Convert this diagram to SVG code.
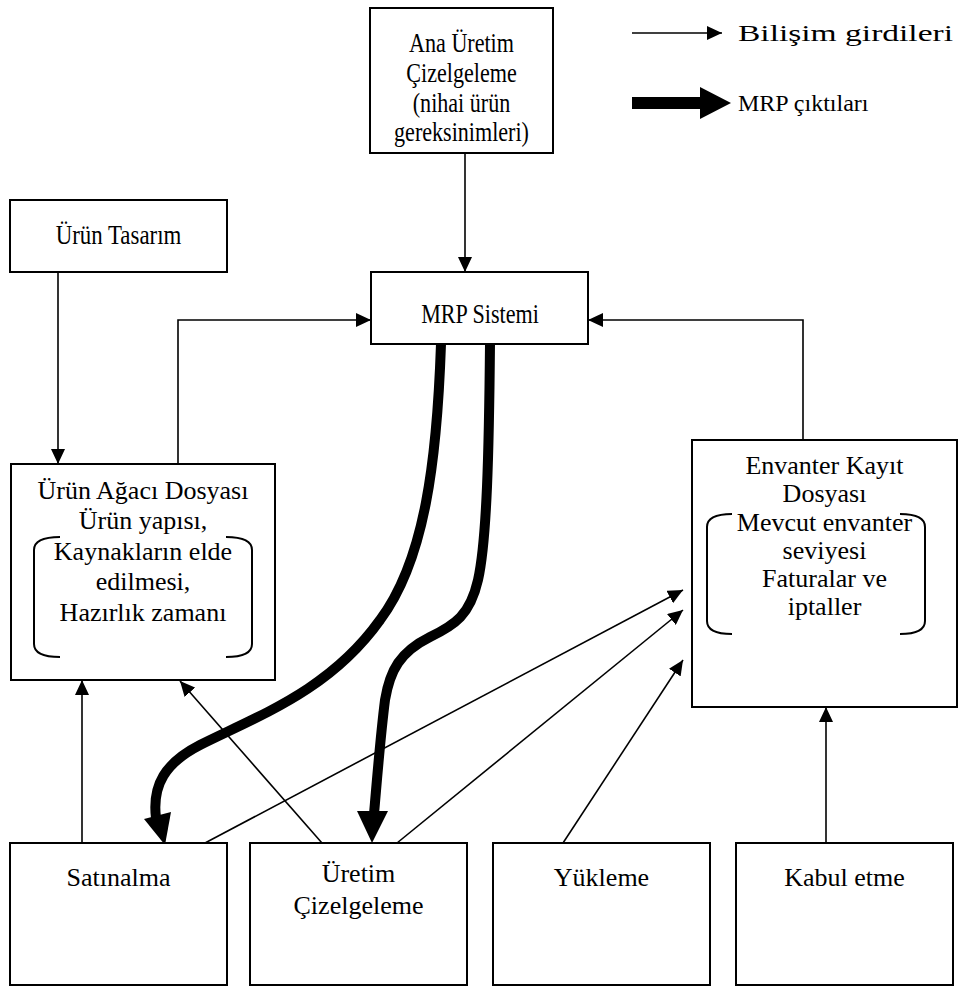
<svg xmlns="http://www.w3.org/2000/svg" width="980" height="994" viewBox="0 0 980 994">
  <style>
    .box { fill: #fff; stroke: #000; stroke-width: 2; }
    .t { font-family: "Liberation Serif", "Times New Roman", serif; font-size: 26px; text-anchor: middle; fill: #000; }
    .lg { font-family: "Liberation Serif", "Times New Roman", serif; font-size: 24px; fill: #000; }
    .thin { fill: none; stroke: #000; stroke-width: 1.6; marker-end: url(#ah); }
    .thick { fill: none; stroke: #000; stroke-width: 10; }
    .brk { fill: none; stroke: #000; stroke-width: 2; }
  </style>
  <defs>
    <marker id="ah" markerUnits="userSpaceOnUse" markerWidth="16" markerHeight="14" refX="15" refY="7" orient="auto">
      <path d="M0,0 L15,7 L0,14 z" fill="#000"/>
    </marker>
  </defs>
  <rect width="980" height="994" fill="#fff"/>

  <!-- legend -->
  <g id="legend">
    <line x1="632" y1="33" x2="722" y2="33" class="thin"/>
    <text class="lg" x="738" y="41" textLength="215" lengthAdjust="spacingAndGlyphs">Bilişim girdileri</text>
    <line x1="632" y1="103" x2="702" y2="103" stroke="#000" stroke-width="12"/>
    <polygon points="700,87 731,103 700,119" fill="#000"/>
    <text class="lg" x="738" y="111">MRP çıktıları</text>
  </g>

  <!-- connectors -->
  <g id="connectors">
    <path class="thin" d="M465,153 V272"/>
    <path class="thin" d="M58,272 V464"/>
    <path class="thin" d="M178,464 V320 H371"/>
    <path class="thin" d="M803,440 V320 H588"/>
    <path class="thin" d="M82,843 V680"/>
    <path class="thin" d="M322,843 L180,681"/>
    <path class="thin" d="M205,843 L683,590"/>
    <path class="thin" d="M397,843 L683,610"/>
    <path class="thin" d="M563,843 L683,660"/>
    <path class="thin" d="M826,843 V707"/>
    <!-- MRP outputs -->
    <path class="thick" d="M441,344 C437,460 425,560 380,620 C330,690 260,715 200,745 C165,763 152,785 156,818"/>
    <polygon points="165,845 171,812 144,819" fill="#000"/>
    <path class="thick" d="M490,344 C489,450 487,540 478,580 C470,615 455,625 430,637 C400,652 390,670 385,700 C380,740 377,780 374,814"/>
    <polygon points="372,843 357,811 388,811" fill="#000"/>
  </g>

  <g id="ana-uretim">
    <rect class="box" x="370" y="8" width="183" height="145"/>
    <text class="t" transform="translate(461.5,52) scale(0.85,1.08)">Ana Üretim</text>
    <text class="t" transform="translate(461.5,82) scale(0.85,1.08)">Çizelgeleme</text>
    <text class="t" transform="translate(461.5,112) scale(0.85,1.08)">(nihai ürün</text>
    <text class="t" transform="translate(461.5,141) scale(0.85,1.08)">gereksinimleri)</text>
  </g>

  <g id="urun-tasarim">
    <rect class="box" x="10" y="200" width="217" height="72"/>
    <text class="t" transform="translate(118.5,244) scale(0.88,1.08)">Ürün Tasarım</text>
  </g>

  <g id="mrp-sistemi">
    <rect class="box" x="371" y="272" width="217" height="72"/>
    <text class="t" transform="translate(480,323) scale(0.85,1.08)">MRP Sistemi</text>
  </g>

  <g id="urun-agaci">
    <rect class="box" x="11" y="464" width="264" height="216"/>
    <text class="t" x="143" y="499">Ürün Ağacı Dosyası</text>
    <text class="t" x="143" y="529">Ürün yapısı,</text>
    <text class="t" x="143" y="560">Kaynakların elde</text>
    <text class="t" x="143" y="590">edilmesi,</text>
    <text class="t" x="143" y="621">Hazırlık zamanı</text>
    <path class="brk" d="M60,537 Q34,537 34,550 V644 Q34,657 60,657"/>
    <path class="brk" d="M226,537 Q252,537 252,550 V644 Q252,657 226,657"/>
  </g>

  <g id="envanter">
    <rect class="box" x="692" y="440" width="265" height="267"/>
    <text class="t" x="824.5" y="474">Envanter Kayıt</text>
    <text class="t" x="824.5" y="502">Dosyası</text>
    <text class="t" x="824.5" y="531">Mevcut envanter</text>
    <text class="t" x="824.5" y="559">seviyesi</text>
    <text class="t" x="824.5" y="587">Faturalar ve</text>
    <text class="t" x="824.5" y="615">iptaller</text>
    <path class="brk" d="M732,514 Q707,514 707,527 V621 Q707,634 732,634"/>
    <path class="brk" d="M900,514 Q925,514 925,527 V621 Q925,634 900,634"/>
  </g>

  <g id="satinalma">
    <rect class="box" x="10" y="843" width="217" height="142"/>
    <text class="t" x="118.5" y="886">Satınalma</text>
  </g>

  <g id="uretim-cizelgeleme">
    <rect class="box" x="250" y="843" width="217" height="142"/>
    <text class="t" x="358.5" y="882">Üretim</text>
    <text class="t" x="358.5" y="914">Çizelgeleme</text>
  </g>

  <g id="yukleme">
    <rect class="box" x="493" y="843" width="217" height="142"/>
    <text class="t" x="601.5" y="886">Yükleme</text>
  </g>

  <g id="kabul-etme">
    <rect class="box" x="736" y="843" width="217" height="142"/>
    <text class="t" x="844.5" y="886">Kabul etme</text>
  </g>
</svg>
